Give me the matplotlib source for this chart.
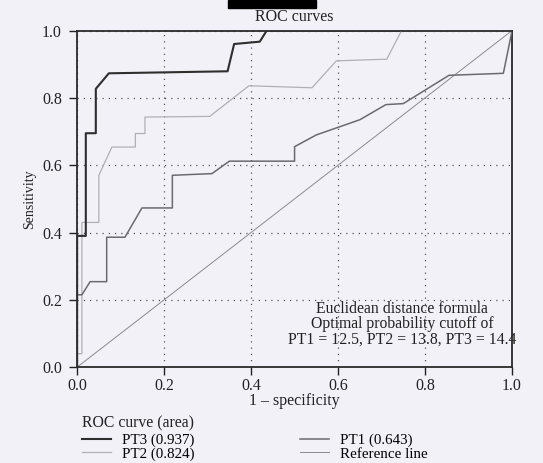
import matplotlib
matplotlib.use("Agg")
import matplotlib.pyplot as plt
from matplotlib.patches import Rectangle

# ---- data ----
pt3_x = [0, 0, 0.02, 0.02, 0.043, 0.043, 0.073, 0.346, 0.361, 0.42, 0.436, 1.0]
pt3_y = [0, 0.39, 0.39, 0.695, 0.695, 0.827, 0.873, 0.879, 0.96, 0.967, 1.0, 1.0]

pt2_x = [0, 0, 0.011, 0.011, 0.05, 0.05, 0.08, 0.134, 0.134, 0.156, 0.156,
         0.305, 0.395, 0.54, 0.596, 0.712, 0.746, 1.0]
pt2_y = [0, 0.04, 0.04, 0.43, 0.43, 0.57, 0.654, 0.654, 0.694, 0.694, 0.743,
         0.745, 0.836, 0.83, 0.91, 0.915, 1.0, 1.0]

pt1_x = [0, 0, 0.011, 0.03, 0.068, 0.068, 0.11, 0.149, 0.219, 0.219, 0.31,
         0.35, 0.50, 0.50, 0.55, 0.65, 0.71, 0.75, 0.855, 0.98, 1.0]
pt1_y = [0, 0.215, 0.215, 0.254, 0.254, 0.386, 0.386, 0.473, 0.473, 0.57, 0.575,
         0.612, 0.612, 0.655, 0.69, 0.735, 0.78, 0.783, 0.867, 0.873, 1.0]

ref_x = [0, 1]
ref_y = [0, 1]

labels = ["PT3 (0.937)", "PT2 (0.824)", "PT1 (0.643)", "Reference line"]
ticks = [0.0, 0.2, 0.4, 0.6, 0.8, 1.0]
tick_labels = ["0.0", "0.2", "0.4", "0.6", "0.8", "1.0"]
note = "Euclidean distance formula\nOptimal probability cutoff of\nPT1 = 12.5, PT2 = 13.8, PT3 = 14.4"
legend_title = "ROC curve (area)"

plt.rcParams["font.family"] = ["Liberation Serif", "DejaVu Serif"]
bg = "#f2f1f8"

fig = plt.figure(figsize=(5.43, 4.63), dpi=100, facecolor=bg)
ax = fig.add_axes([0.142, 0.207, 0.801, 0.727])
ax.set_facecolor(bg)

l3, = ax.plot(pt3_x, pt3_y, color="#2e2e2e", lw=1.5, zorder=4)
l2, = ax.plot(pt2_x, pt2_y, color="#b0b0b4", lw=0.9, zorder=3)
l1, = ax.plot(pt1_x, pt1_y, color="#6a6a6e", lw=1.1, zorder=3)
lr, = ax.plot(ref_x, ref_y, color="#8a8a8e", lw=0.7, zorder=2)

ax.set_xlim(0, 1)
ax.set_ylim(0, 1)
ax.set_xticks(ticks)
ax.set_xticklabels(tick_labels)
ax.set_yticks(ticks)
ax.set_yticklabels(tick_labels)
ax.tick_params(direction="out", length=6, width=1, labelsize=11.5, colors="#222222")
ax.tick_params(axis="y", pad=5)
ax.tick_params(axis="x", pad=2)
ax.grid(True, linestyle=(0, (1, 4)), color="#555555", lw=0.9)
for s in ax.spines.values():
    s.set_color("#2a2a2a")
    s.set_linewidth(1.3)

ax.set_title("ROC curves", fontsize=11.5, pad=7, color="#222222")
ax.set_xlabel("1 – specificity", fontsize=11.5, labelpad=-1, color="#222222")
ax.set_ylabel("Sensitivity", fontsize=10, labelpad=4, color="#222222")

ax.text(0.747, 0.058, note, ha="center", va="bottom", multialignment="center",
        fontsize=11.3, color="#222222", linespacing=0.95, zorder=5)

fig.text(82 / 543, 1 - 423 / 463, legend_title, ha="left", va="center",
         fontsize=11.3, color="#222222")
leg = fig.legend([l3, l2, l1, lr], labels, ncol=2, loc="center left",
                 bbox_to_anchor=(82 / 543, 1 - 447 / 463), frameon=False,
                 fontsize=10.8, handlelength=1.9, handletextpad=0.8,
                 labelspacing=0.0, columnspacing=7.0, borderpad=0.0,
                 borderaxespad=0.0)

fig.patches.append(Rectangle((228 / 543, 1 - 8 / 463), 88 / 543, 8 / 463,
                             transform=fig.transFigure, color="black", zorder=10))

fig.savefig("out.png", dpi=100, facecolor=bg)
